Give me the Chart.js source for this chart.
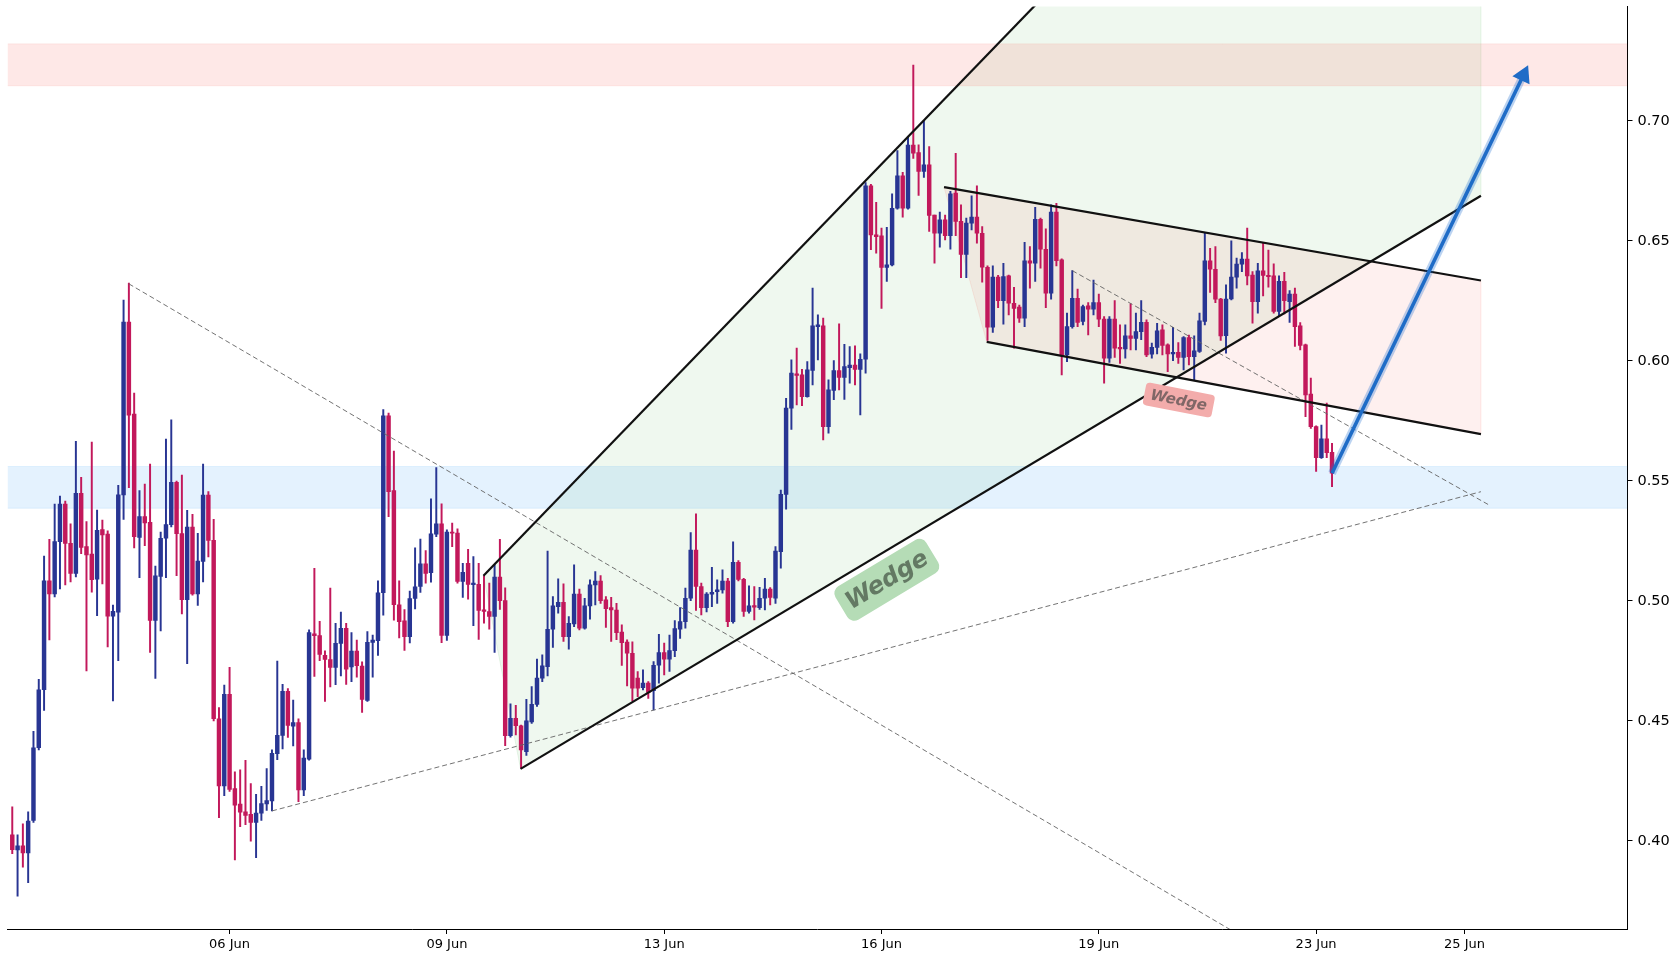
<!DOCTYPE html>
<html><head><meta charset="utf-8">
<script src="https://cdn.jsdelivr.net/npm/chart.js@4.4.1/dist/chart.umd.min.js"></script>
<style>html,body{margin:0;padding:0;background:#fff;}#wrap{width:1680px;height:960px;}</style>
</head><body><div id="wrap"><canvas id="c" width="1680" height="960"></canvas></div>
<script>
// ---------- DATA ----------
const openP = [
0.4025,0.3962,0.3980,0.3950,0.4085,0.4388,0.4630,0.5084,0.5029,0.5247,
0.5403,0.5240,0.5114,0.5448,0.5226,0.5195,0.5091,0.5297,0.5278,0.4936,
0.4953,0.5442,0.6162,0.5778,0.5264,0.5351,0.5327,0.4919,0.5102,0.5261,
0.5318,0.5494,0.5280,0.5005,0.5308,0.5029,0.5164,0.5441,0.5252,0.4509,
0.4229,0.4611,0.4218,0.4153,0.4121,0.4111,0.4077,0.4116,0.4154,0.4167,
0.4364,0.4440,0.4623,0.4478,0.4493,0.4212,0.4341,0.4863,0.4856,0.4773,
0.4756,0.4723,0.4823,0.4886,0.4725,0.4791,0.4728,0.4585,0.4827,0.4834,
0.5034,0.5771,0.5460,0.4984,0.4917,0.4851,0.5010,0.5060,0.5154,0.5118,
0.5278,0.5321,0.4856,0.5287,0.5283,0.5081,0.5157,0.5068,0.5069,0.4963,
0.4956,0.4935,0.5099,0.5001,0.4439,0.4511,0.4480,0.4372,0.4496,0.4569,
0.4678,0.4726,0.4882,0.4976,0.4994,0.4851,0.4904,0.5028,0.4886,0.4979,
0.5067,0.5083,0.5004,0.4972,0.4962,0.4870,0.4828,0.4782,0.4678,0.4638,
0.4658,0.4626,0.4732,0.4785,0.4757,0.4793,0.4882,0.4914,0.5011,0.5212,
0.5060,0.4972,0.5028,0.5039,0.5046,0.5083,0.4914,0.5161,0.5090,0.4956,
0.4981,0.4972,0.5011,0.5049,0.5011,0.5205,0.5444,0.5803,0.5946,0.5942,
0.5851,0.5960,0.6143,0.6146,0.5726,0.5877,0.5960,0.5931,0.5972,0.5983,
0.5965,0.6007,0.6729,0.6525,0.6521,0.6389,0.6400,0.6636,0.6771,0.6636,
0.6899,0.6868,0.6789,0.6817,0.6608,0.6532,0.6588,0.6522,0.6699,0.6581,
0.6444,0.6574,0.6599,0.6532,0.6390,0.6140,0.6349,0.6251,0.6354,0.6240,
0.6224,0.6178,0.6417,0.6407,0.6590,0.6465,0.6282,0.6620,0.6421,0.6025,
0.6143,0.6261,0.6164,0.6229,0.6215,0.6243,0.6174,0.6011,0.6174,0.6056,
0.6050,0.6104,0.6094,0.6122,0.6161,0.6028,0.6056,0.6129,0.6067,0.6029,
0.6036,0.6015,0.6097,0.6018,0.6039,0.6164,0.6417,0.6382,0.6258,0.6105,
0.6258,0.6349,0.6403,0.6424,0.6358,0.6247,0.6375,0.6357,0.6354,0.6206,
0.6331,0.6247,0.6278,0.6146,0.6067,0.5862,0.5726,0.5597,0.5675,0.5619];
const highP = [
0.4142,0.4025,0.4071,0.4121,0.4457,0.4673,0.5187,0.5257,0.5403,0.5437,
0.5416,0.5321,0.5665,0.5515,0.5330,0.5662,0.5378,0.5337,0.5292,0.4983,
0.5482,0.6253,0.6324,0.5866,0.5460,0.5487,0.5570,0.5145,0.5287,0.5674,
0.5754,0.5499,0.5524,0.5377,0.5361,0.5282,0.5570,0.5455,0.5340,0.4556,
0.4649,0.4723,0.4288,0.4296,0.4336,0.4239,0.4194,0.4227,0.4301,0.4379,
0.4749,0.4652,0.4635,0.4587,0.4509,0.4379,0.4879,0.5136,0.4915,0.4792,
0.5053,0.4907,0.4953,0.4907,0.4868,0.4837,0.4746,0.4872,0.4858,0.5084,
0.5797,0.5783,0.5624,0.5084,0.4964,0.5041,0.5221,0.5258,0.5210,0.5425,
0.5555,0.5404,0.5296,0.5324,0.5300,0.5157,0.5215,0.5185,0.5157,0.5104,
0.5074,0.5150,0.5257,0.5054,0.4571,0.4565,0.4483,0.4590,0.4643,0.4758,
0.4775,0.5208,0.5018,0.5092,0.5071,0.4935,0.5150,0.5049,0.5011,0.5088,
0.5122,0.5106,0.5018,0.5015,0.4990,0.4900,0.4838,0.4829,0.4706,0.4713,
0.4664,0.4747,0.4861,0.4824,0.4858,0.4918,0.4972,0.5053,0.5285,0.5363,
0.5074,0.5035,0.5140,0.5088,0.5129,0.5094,0.5246,0.5168,0.5094,0.5063,
0.5060,0.5057,0.5094,0.5056,0.5226,0.5462,0.5844,0.6004,0.6053,0.5965,
0.5997,0.6303,0.6192,0.6178,0.5921,0.6001,0.6154,0.6069,0.6060,0.6063,
0.6029,0.6743,0.6736,0.6661,0.6553,0.6556,0.6696,0.6876,0.6786,0.6932,
0.7233,0.6900,0.7001,0.6893,0.6608,0.6620,0.6608,0.6706,0.6865,0.6650,
0.6595,0.6688,0.6729,0.6560,0.6396,0.6396,0.6357,0.6407,0.6358,0.6307,
0.6233,0.6494,0.6476,0.6640,0.6595,0.6550,0.6650,0.6657,0.6425,0.6199,
0.6376,0.6299,0.6233,0.6243,0.6337,0.6278,0.6185,0.6185,0.6251,0.6150,
0.6150,0.6238,0.6199,0.6251,0.6171,0.6074,0.6157,0.6150,0.6071,0.6140,
0.6076,0.6101,0.6108,0.6104,0.6199,0.6532,0.6469,0.6476,0.6261,0.6317,
0.6500,0.6428,0.6451,0.6553,0.6372,0.6407,0.6490,0.6462,0.6404,0.6354,
0.6369,0.6293,0.6303,0.6160,0.6070,0.5928,0.5729,0.5733,0.5824,0.5657];
const lowP = [
0.3947,0.3770,0.3891,0.3826,0.4077,0.4379,0.4544,0.4837,0.5017,0.5050,
0.5067,0.5079,0.5100,0.5197,0.4708,0.5036,0.4938,0.5071,0.4808,0.4583,
0.4751,0.5339,0.5472,0.5221,0.5097,0.5230,0.4785,0.4677,0.4875,0.5097,
0.5308,0.5105,0.4946,0.4739,0.5024,0.4981,0.5079,0.5183,0.4500,0.4097,
0.4189,0.4206,0.3921,0.4059,0.4068,0.3999,0.3930,0.4085,0.4127,0.4125,
0.4339,0.4383,0.4431,0.4396,0.4163,0.4189,0.4336,0.4685,0.4751,0.4581,
0.4642,0.4651,0.4687,0.4652,0.4664,0.4682,0.4535,0.4581,0.4682,0.4773,
0.4941,0.5351,0.4920,0.4846,0.4794,0.4825,0.4967,0.5035,0.5074,0.5078,
0.5268,0.4826,0.4835,0.5226,0.5074,0.5015,0.5007,0.4897,0.4840,0.4907,
0.4882,0.4785,0.4965,0.4397,0.4432,0.4442,0.4303,0.4356,0.4490,0.4560,
0.4664,0.4687,0.4806,0.4949,0.4831,0.4799,0.4893,0.4879,0.4882,0.4924,
0.4983,0.4990,0.4890,0.4831,0.4838,0.4731,0.4646,0.4583,0.4601,0.4629,
0.4594,0.4546,0.4657,0.4692,0.4706,0.4768,0.4844,0.4886,0.5001,0.4960,
0.4942,0.4954,0.4976,0.4990,0.5032,0.4893,0.4907,0.5083,0.4935,0.4949,
0.4921,0.4965,0.4962,0.4983,0.4990,0.5136,0.5382,0.5715,0.5817,0.5813,
0.5849,0.5900,0.6004,0.5671,0.5699,0.5838,0.5879,0.5840,0.5907,0.5900,
0.5775,0.5949,0.6463,0.6449,0.6219,0.6331,0.6396,0.6632,0.6599,0.6632,
0.6844,0.6689,0.6764,0.6539,0.6407,0.6474,0.6504,0.6465,0.6522,0.6347,
0.6347,0.6546,0.6490,0.6328,0.6085,0.6119,0.6222,0.6153,0.6192,0.6053,
0.6160,0.6143,0.6303,0.6331,0.6386,0.6222,0.6257,0.6396,0.5942,0.5997,
0.6136,0.6143,0.6150,0.6108,0.6192,0.6143,0.5907,0.5994,0.6014,0.5990,
0.6011,0.6046,0.6046,0.6088,0.6018,0.6011,0.6029,0.6025,0.5955,0.6001,
0.5990,0.5962,0.5983,0.5921,0.6035,0.6150,0.6285,0.6243,0.6085,0.6032,
0.6254,0.6303,0.6372,0.6317,0.6157,0.6199,0.6271,0.6307,0.6199,0.6188,
0.6196,0.6160,0.6060,0.6046,0.5768,0.5719,0.5539,0.5594,0.5597,0.5476];
const closeP = [
0.3964,0.3980,0.3950,0.4083,0.4388,0.4630,0.5084,0.5029,0.5247,0.5403,
0.5240,0.5114,0.5448,0.5223,0.5192,0.5088,0.5294,0.5275,0.4936,0.4957,
0.5442,0.6162,0.5774,0.5268,0.5351,0.5325,0.4919,0.5104,0.5261,0.5318,
0.5494,0.5280,0.5005,0.5308,0.5029,0.5166,0.5441,0.5252,0.4509,0.4229,
0.4611,0.4215,0.4149,0.4120,0.4106,0.4077,0.4116,0.4156,0.4168,0.4365,
0.4440,0.4623,0.4481,0.4493,0.4212,0.4345,0.4868,0.4855,0.4777,0.4756,
0.4723,0.4823,0.4886,0.4716,0.4791,0.4730,0.4590,0.4827,0.4837,0.5034,
0.5771,0.5455,0.4984,0.4913,0.4851,0.5010,0.5059,0.5154,0.5115,0.5279,
0.5321,0.4856,0.5287,0.5282,0.5081,0.5119,0.5069,0.5074,0.4960,0.4956,
0.4935,0.5099,0.5001,0.4439,0.4511,0.4480,0.4379,0.4500,0.4569,0.4678,
0.4729,0.4882,0.4979,0.4994,0.4851,0.4907,0.5028,0.4886,0.4979,0.5067,
0.5083,0.5001,0.4968,0.4962,0.4868,0.4826,0.4782,0.4636,0.4636,0.4658,
0.4619,0.4732,0.4785,0.4757,0.4793,0.4885,0.4914,0.5011,0.5212,0.5060,
0.4972,0.5028,0.5036,0.5046,0.5083,0.4914,0.5161,0.5090,0.4956,0.4979,
0.4974,0.5011,0.5049,0.5015,0.5208,0.5444,0.5803,0.5949,0.5940,0.5851,
0.5963,0.6146,0.6150,0.5726,0.5879,0.5960,0.5931,0.5976,0.5983,0.5965,
0.6007,0.6729,0.6525,0.6518,0.6389,0.6400,0.6636,0.6771,0.6636,0.6899,
0.6865,0.6789,0.6817,0.6606,0.6532,0.6588,0.6522,0.6696,0.6581,0.6444,
0.6574,0.6599,0.6532,0.6390,0.6140,0.6349,0.6251,0.6351,0.6240,0.6219,
0.6178,0.6417,0.6407,0.6590,0.6465,0.6282,0.6620,0.6418,0.6025,0.6143,
0.6261,0.6160,0.6226,0.6215,0.6243,0.6174,0.6011,0.6174,0.6053,0.6050,
0.6104,0.6094,0.6122,0.6161,0.6025,0.6056,0.6125,0.6064,0.6029,0.6036,
0.6015,0.6097,0.6018,0.6042,0.6167,0.6417,0.6382,0.6257,0.6104,0.6258,
0.6349,0.6403,0.6424,0.6354,0.6247,0.6375,0.6356,0.6351,0.6206,0.6331,
0.6251,0.6278,0.6143,0.6064,0.5858,0.5726,0.5597,0.5675,0.5618,0.5532];

const tickIndex  = [41, 82, 123, 164, 205, 246, 274];
const tickLabels = ['06 Jun','09 Jun','13 Jun','16 Jun','19 Jun','23 Jun','25 Jun'];
const yTicks = [0.40, 0.45, 0.50, 0.55, 0.60, 0.65, 0.70];

const resistanceBand = [0.7146, 0.7321];
const supportBand    = [0.5386, 0.5560];
const wedgeUpper   = [[88.9, 0.5105], [277.1, 0.9402]];
const wedgeLower   = [[95.9, 0.4300], [277.1, 0.6688]];
const channelUpper = [[175.8, 0.6724], [277.1, 0.6335]];
const channelLower = [[183.85, 0.6079], [277.1, 0.5695]];
const dashA = [[22, 0.6321], [304.75, 0.2660]];
const dashB = [[49, 0.4125], [277.1, 0.5455]];
const dashC = [[200, 0.6376], [278.6, 0.5400]];
const arrowPath = [[249, 0.5532], [285.1, 0.7190]];
const labelGreen = {x: 165.0, y: 0.5088, text: 'Wedge'};
const labelRed   = {x: 220.1, y: 0.5837, text: 'Wedge'};

// ---------- BUILD ----------
const UP = '#283593', DOWN = '#c2185b';
const idx = openP.map((_, i) => i);
const candleColors = idx.map(i => closeP[i] >= openP[i] ? UP : DOWN);
const wickData = idx.map(i => ({x: i, y: [lowP[i], highP[i]]}));
const bodyData = idx.map(i => ({x: i, y: [openP[i], closeP[i]]}));
const seg = pts => pts.map(p => ({x: p[0], y: p[1]}));
const lineDs = (pts, color, width, dash, order) => ({
  type: 'line', data: seg(pts), borderColor: color, borderWidth: width,
  borderDash: dash || [], pointRadius: 0, fill: false, order: order, tension: 0
});

const greenZone = [wedgeUpper[0], wedgeUpper[1], wedgeLower[1], wedgeLower[0]];
const redZone = [channelUpper[0], channelUpper[1], channelLower[1], channelLower[0]];

const overlays = {
  id: 'overlays',
  beforeDatasetsDraw(chart) {
    const {ctx, chartArea: a, scales: {x, y}} = chart;
    ctx.save();
    ctx.beginPath(); ctx.rect(a.left, a.top, a.right - a.left, a.bottom - a.top); ctx.clip();
    const poly = (pts, fill, edge) => {
      ctx.beginPath();
      pts.forEach((p, i) => {
        const px = x.getPixelForValue(p[0]), py = y.getPixelForValue(p[1]);
        if (i) ctx.lineTo(px, py); else ctx.moveTo(px, py);
      });
      ctx.closePath(); ctx.fillStyle = fill; ctx.fill();
      ctx.strokeStyle = edge; ctx.lineWidth = 1; ctx.stroke();
    };
    const band = (r, fill, edge) => {
      const yt = y.getPixelForValue(r[1]), yb = y.getPixelForValue(r[0]);
      ctx.fillStyle = fill; ctx.fillRect(a.left, yt, a.right - a.left, yb - yt);
      ctx.strokeStyle = edge; ctx.lineWidth = 1;
      ctx.beginPath(); ctx.moveTo(a.left, yt); ctx.lineTo(a.right, yt);
      ctx.moveTo(a.left, yb); ctx.lineTo(a.right, yb); ctx.stroke();
    };
    poly(greenZone, 'rgba(76,175,80,0.09)', 'rgba(76,175,80,0.12)');
    poly(redZone, 'rgba(244,67,54,0.08)', 'rgba(244,67,54,0.10)');
    band(resistanceBand, 'rgba(244,67,54,0.12)', 'rgba(244,67,54,0.08)');
    band(supportBand, 'rgba(33,150,243,0.12)', 'rgba(33,150,243,0.10)');
    ctx.restore();
  },
  afterDatasetsDraw(chart) {
    const {ctx, scales: {x, y}} = chart;
    const tag = (lab, ang, font, w, h, r, bg, fg) => {
      const px = x.getPixelForValue(lab.x), py = y.getPixelForValue(lab.y);
      ctx.save(); ctx.translate(px, py); ctx.rotate(ang * Math.PI / 180);
      ctx.fillStyle = bg; ctx.beginPath(); ctx.roundRect(-w / 2, -h / 2, w, h, r); ctx.fill();
      ctx.font = font; ctx.fillStyle = fg; ctx.textAlign = 'center'; ctx.textBaseline = 'middle';
      ctx.fillText(lab.text, 0, 1);
      ctx.restore();
    };
    tag(labelGreen, -31, 'italic bold 24px "DejaVu Sans"', 106, 39, 8, '#b5dcb6', 'rgba(95,115,95,0.95)');
    tag(labelRed, 11, 'italic bold 15px "DejaVu Sans"', 70, 23, 4, '#f3acab', 'rgba(115,95,95,0.9)');
  }
};

Chart.defaults.font.family = '"DejaVu Sans", sans-serif';
Chart.defaults.color = '#000';

new Chart(document.getElementById('c'), {
  type: 'bar',
  data: {
    datasets: [
      {type: 'bar', data: wickData, backgroundColor: candleColors, barThickness: 1.3, grouped: false, order: 20},
      {type: 'bar', data: bodyData, backgroundColor: candleColors, barThickness: 3.8, grouped: false, minBarLength: 1, order: 19},
      lineDs(dashA, 'rgba(100,100,100,0.9)', 1, [5, 3], 8),
      lineDs(dashB, 'rgba(100,100,100,0.9)', 1, [5, 3], 8),
      lineDs(dashC, 'rgba(100,100,100,0.9)', 1, [5, 3], 8),
      lineDs(wedgeUpper, '#111', 2.2, null, 6),
      lineDs(wedgeLower, '#111', 2.2, null, 6),
      lineDs(channelUpper, '#111', 2.2, null, 6),
      lineDs(channelLower, '#111', 2.2, null, 6),
      lineDs(arrowPath, 'rgba(30,110,210,0.3)', 8, null, 3),
      lineDs(arrowPath, '#1f6cc7', 3.6, null, 2),
      {type: 'line', data: seg([arrowPath[1]]), showLine: false, pointStyle: 'triangle',
       pointRadius: 11, pointRotation: 25.6, pointBackgroundColor: '#1f6cc7',
       pointBorderWidth: 0, order: 1}
    ]
  },
  options: {
    responsive: false, animation: false, devicePixelRatio: 1,
    layout: {autoPadding: false, padding: {left: 7.5, top: 6.4, right: 0, bottom: 0}},
    plugins: {legend: {display: false}, tooltip: {enabled: false}},
    events: [],
    scales: {
      x: {
        type: 'linear', min: -0.9, max: 304.75, offset: false,
        afterBuildTicks: s => { s.ticks = tickIndex.map(v => ({value: v})); },
        afterFit: s => { s.height = 31; s.paddingLeft = 0; s.paddingRight = 0; },
        ticks: {autoSkip: false, maxRotation: 0, padding: 3, color: '#000',
                font: {size: 13}, callback: v => tickLabels[tickIndex.indexOf(v)]},
        grid: {display: true, drawOnChartArea: false, drawTicks: true, tickLength: 5,
               tickColor: '#000', offset: false},
        border: {display: true, color: '#000', width: 1}
      },
      y: {
        type: 'linear', position: 'right', min: 0.3633, max: 0.7477,
        afterBuildTicks: s => { s.ticks = yTicks.map(v => ({value: v})); },
        afterFit: s => { s.width = 52.5; s.paddingTop = 0; s.paddingBottom = 0; },
        ticks: {padding: 5, color: '#000', font: {size: 14.5}, callback: v => v.toFixed(2)},
        grid: {display: true, drawOnChartArea: false, drawTicks: true, tickLength: 5, tickColor: '#000'},
        border: {display: true, color: '#000', width: 1}
      }
    }
  },
  plugins: [overlays]
});
</script>
</body></html>
